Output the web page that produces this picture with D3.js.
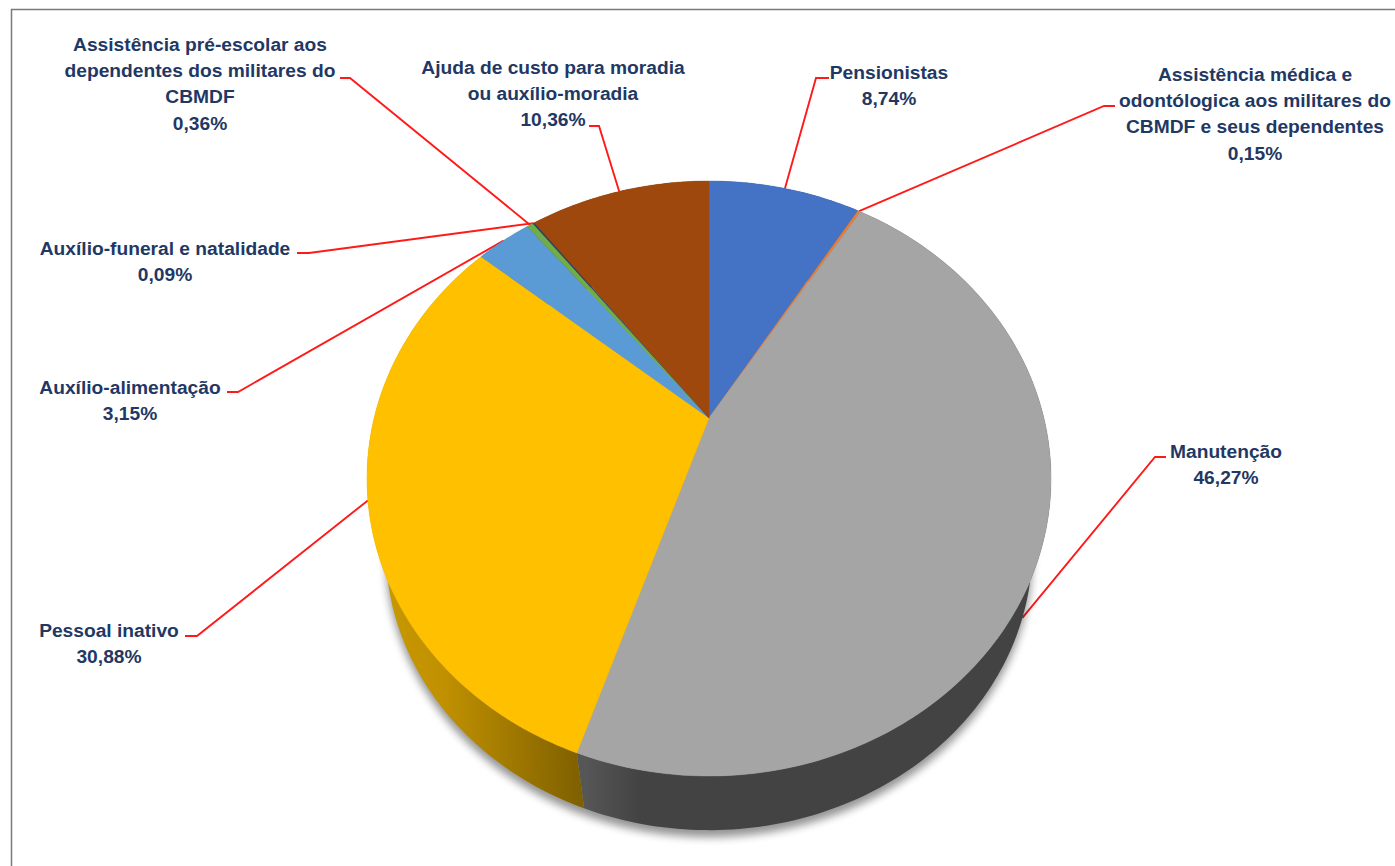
<!DOCTYPE html>
<html lang="pt-BR">
<head>
<meta charset="utf-8">
<title>Composição das despesas</title>
<script src="https://cdn.jsdelivr.net/npm/d3@7/dist/d3.min.js"></script>
<style>
  html, body { margin: 0; padding: 0; background: #fff; }
  svg { display: block; }
  text { font-family: "Liberation Sans", Arial, sans-serif; font-weight: 700; fill: #1f3864; }
</style>
</head>
<body>
<svg id="chart" width="1395" height="866"></svg>
<script>
// Slices, clockwise from twelve o'clock
const categories = [
  ["Pensionistas"],
  ["Assistência médica e", "odontólogica aos militares do", "CBMDF e seus dependentes"],
  ["Manutenção"],
  ["Pessoal inativo"],
  ["Auxílio-alimentação"],
  ["Assistência pré-escolar aos", "dependentes dos militares do", "CBMDF"],
  ["Auxílio-funeral e natalidade"],
  ["Ajuda de custo para moradia", "ou auxílio-moradia"]
];
const values = [8.74, 0.15, 46.27, 30.88, 3.15, 0.36, 0.09, 10.36];
const colors = ["#4472c4", "#ed7d31", "#a5a5a5", "#ffc000", "#5b9bd5", "#70ad47", "#264478", "#9e480e"];

// Label placement: centre x, centre y of the first line, leader start / elbow
const labelLayout = [
  { x: 889,  y: 72,  from: [829, 78],   elbow: [816, 78] },
  { x: 1255, y: 74,  from: [1115, 106], elbow: [1104, 106] },
  { x: 1226, y: 451, from: [1166, 457], elbow: [1155, 457], toBase: true },
  { x: 109,  y: 630, from: [185, 636],  elbow: [197, 636] },
  { x: 130,  y: 387, from: [227, 392],  elbow: [238, 392] },
  { x: 200,  y: 44,  from: [340, 78],   elbow: [350, 78] },
  { x: 165,  y: 248, from: [297, 253],  elbow: [309, 253] },
  { x: 553,  y: 67,  from: [589, 126],  elbow: [599, 126] }
];
const lineHeight = 26.3;

// Tilted disc seen in perspective: unit-circle coordinates map to the page
// through a homography centred on the apex of the slices.
const apex = { x: 709, y: 418 };
const persp = { a: 334.9, b: 285.2, k: 0.2034 };
const vanish = { x: 709, y: 1760 };
const baseScale = 0.945;

function rim(theta) {
  const u = Math.sin(theta), v = -Math.cos(theta), d = 1 - persp.k * v;
  return [apex.x + persp.a * u / d, apex.y + persp.b * v / d];
}
function baseRim(theta) {
  const [x, y] = rim(theta);
  return [vanish.x + (x - vanish.x) * baseScale, vanish.y + (y - vanish.y) * baseScale];
}

const svg = d3.select("#chart");
const defs = svg.append("defs");
const line = d3.line();
const pct = d3.formatLocale({ decimal: ",", thousands: ".", grouping: [3], currency: ["", ""] }).format(".2f");

const arcs = d3.pie().sort(null).startAngle(0).endAngle(2 * Math.PI)(values);

function samples(a0, a1) {
  const n = Math.max(2, Math.ceil((a1 - a0) / (Math.PI / 180)));
  return d3.range(n + 1).map(i => a0 + (a1 - a0) * i / n);
}
const strip = (a0, a1) => {
  const t = samples(a0, a1);
  return line(t.map(rim).concat(t.slice().reverse().map(baseRim))) + "Z";
};

defs.append("filter").attr("id", "soft")
  .attr("x", "-10%").attr("y", "-10%").attr("width", "120%").attr("height", "120%")
  .append("feGaussianBlur").attr("stdDeviation", 4);

// Frame, open towards the right and bottom of the page
svg.append("path").attr("d", "M11.5,1000V9.5H1500")
  .attr("fill", "none").attr("stroke", "#7a7a7a").attr("stroke-width", 1.5);

// Leader lines sit under the pie
const leaders = svg.append("g").attr("fill", "none").attr("stroke", "#ff1a1a").attr("stroke-width", 1.9);
arcs.forEach((d, i) => {
  const mid = (d.startAngle + d.endAngle) / 2;
  const l = labelLayout[i];
  leaders.append("path").attr("d", line([l.from, l.elbow, (l.toBase ? baseRim : rim)(mid)]));
});

// Soft shadow under the base of the disc
const baseOutline = samples(0, 2 * Math.PI).map(baseRim);
svg.append("path").attr("d", line(baseOutline) + "Z")
  .attr("transform", "translate(0,7)")
  .attr("fill", "#000").attr("opacity", 0.42).attr("filter", "url(#soft)");

// Side wall, shaded left to right inside each slice
function sideFill(d, i) {
  const x0 = Math.min(rim(d.startAngle)[0], rim(d.endAngle)[0]);
  const x1 = Math.max(rim(d.startAngle)[0], rim(d.endAngle)[0]);
  const id = "side" + i;
  let stops;
  if (i === 3) stops = [[0, "#c89800"], [0.3, "#c09000"], [1, "#7d5f00"]];
  else if (i === 2) stops = [[0, "#565656"], [0.12, "#434343"], [1, "#434343"]];
  else { const c = d3.color(colors[i]).darker(1.4).formatHex(); stops = [[0, c], [1, c]]; }
  const g = defs.append("linearGradient").attr("id", id).attr("gradientUnits", "userSpaceOnUse")
    .attr("x1", i === 3 ? 385 : x0).attr("x2", i === 3 ? 585 : x1)
    .attr("y1", 0).attr("y2", 0);
  if (i === 2) g.attr("x1", 585).attr("x2", 1040);
  stops.forEach(s => g.append("stop").attr("offset", s[0]).attr("stop-color", s[1]));
  return `url(#${id})`;
}
const sides = svg.append("g");
arcs.forEach((d, i) => {
  sides.append("path").attr("d", strip(d.startAngle, d.endAngle)).attr("fill", sideFill(d, i));
});

// Top face
svg.append("g").selectAll("path").data(arcs).join("path")
  .attr("d", d => line([[apex.x, apex.y]].concat(samples(d.startAngle, d.endAngle).map(rim))) + "Z")
  .attr("fill", (d, i) => colors[i])
  .attr("stroke", (d, i) => colors[i])
  .attr("stroke-width", 0.4);

// Labels: category lines followed by the percentage
const labels = svg.append("g").attr("font-size", 19.2).attr("text-anchor", "middle");
arcs.forEach((d, i) => {
  const l = labelLayout[i];
  const rows = categories[i].concat(pct(values[i]) + "%");
  labels.append("g").selectAll("text").data(rows).join("text")
    .attr("x", l.x)
    .attr("y", (r, j) => l.y + j * lineHeight)
    .attr("dy", "0.35em")
    .text(r => r);
});
</script>
</body>
</html>
